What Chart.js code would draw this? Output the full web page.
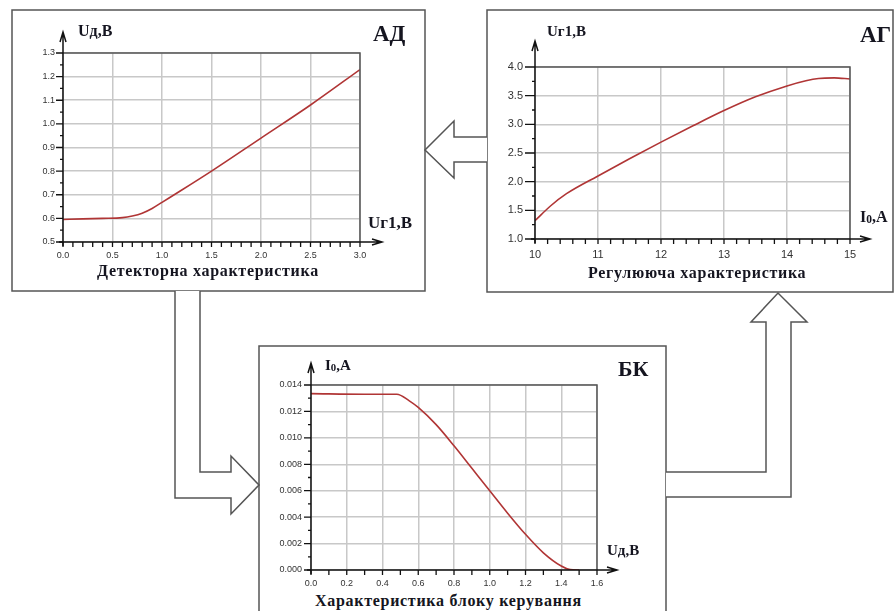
<!DOCTYPE html>
<html>
<head>
<meta charset="utf-8">
<script src="https://cdn.jsdelivr.net/npm/chart.js@4.4.1/dist/chart.umd.min.js"></script>
<style>
body { margin: 0; background: #fff; }
#page { position: relative; width: 894px; height: 611px; overflow: hidden; background: #fff; }
svg { position: absolute; left: 0; top: 0; }
canvas { position: absolute; }
.lbl { position: absolute; font-family: "Liberation Serif", "Times New Roman", serif; font-weight: bold; color: #151520; white-space: nowrap; line-height: 1; z-index: 5; }
.sub { font-size: 0.72em; vertical-align: -0.12em; }
</style>
</head>
<body>
<div id="page">
  <svg width="894" height="611">
    <g fill="#fff" stroke="#555" stroke-width="1.5">
      <rect x="12" y="10" width="413" height="281"/>
      <rect x="487" y="10" width="406" height="282"/>
      <rect x="259" y="346" width="407" height="280"/>
      <!-- AG -> AD -->
      <polyline points="487,137 454,137 454,121 425,150 454,178 454,162 487,162"/>
      <!-- AD -> BK -->
      <polyline points="175,291 175,498 231,498 231,514 259,485 231,456 231,472 200,472 200,291"/>
      <!-- BK -> AG -->
      <polyline points="666,472 766,472 766,322 751,322 778,293 807,322 791,322 791,497 666,497"/>
    </g>
  </svg>

  <canvas id="adChart" width="400" height="250" style="left:10px;top:20px;"></canvas>
  <canvas id="agChart" width="390" height="235" style="left:490px;top:25px;"></canvas>
  <canvas id="bkChart" width="380" height="235" style="left:265px;top:355px;"></canvas>

  <div class="lbl" style="left:78px;top:23px;font-size:16px;">Uд,В</div>
  <div class="lbl" style="left:373px;top:22px;font-size:23px;">АД</div>
  <div class="lbl" style="left:368px;top:214px;font-size:17px;">Uг1,В</div>
  <div class="lbl" style="left:97px;top:263px;font-size:16px;letter-spacing:0.7px;">Детекторна характеристика</div>

  <div class="lbl" style="left:547px;top:24px;font-size:15px;">Uг1,В</div>
  <div class="lbl" style="left:860px;top:23px;font-size:23px;">АГ</div>
  <div class="lbl" style="left:860px;top:209px;font-size:16px;">I<span class="sub">0</span>,А</div>
  <div class="lbl" style="left:588px;top:265px;font-size:16px;letter-spacing:0.7px;">Регулююча характеристика</div>

  <div class="lbl" style="left:325px;top:358px;font-size:15px;">I<span class="sub">0</span>,А</div>
  <div class="lbl" style="left:618px;top:358px;font-size:22px;">БК</div>
  <div class="lbl" style="left:607px;top:543px;font-size:15px;">Uд,В</div>
  <div class="lbl" style="left:315px;top:593px;font-size:16px;letter-spacing:0.7px;">Характеристика блоку керування</div>
</div>

<script>
// Детекторна характеристика (АД): Uд vs Uг1
var adX = [0, 0.2, 0.4, 0.6, 0.7, 0.8, 0.9, 1.0, 1.2, 1.5, 2.0, 2.5, 3.0];
var adY = [0.595, 0.598, 0.600, 0.603, 0.610, 0.622, 0.642, 0.668, 0.72, 0.80, 0.94, 1.08, 1.23];
var adXTicks = [0, 0.5, 1.0, 1.5, 2.0, 2.5, 3.0];
var adYTicks = [0.5, 0.6, 0.7, 0.8, 0.9, 1.0, 1.1, 1.2, 1.3];

// Регулююча характеристика (АГ): Uг1 vs I0
var agX = [10, 10.25, 10.5, 11, 11.5, 12, 12.5, 13, 13.5, 14, 14.3, 14.5, 14.75, 15];
var agY = [1.32, 1.58, 1.79, 2.10, 2.40, 2.69, 2.97, 3.24, 3.48, 3.67, 3.76, 3.80, 3.81, 3.79];
var agXTicks = [10, 11, 12, 13, 14, 15];
var agYTicks = [1.0, 1.5, 2.0, 2.5, 3.0, 3.5, 4.0];

// Характеристика блоку керування (БК): I0 vs Uд
var bkX = [0, 0.3, 0.48, 0.55, 0.6, 0.7, 0.8, 0.9, 1.0, 1.1, 1.2, 1.3, 1.4, 1.45, 1.5];
var bkY = [0.01335, 0.0133, 0.0133, 0.0128, 0.0123, 0.0110, 0.0094, 0.0077, 0.0060, 0.0043, 0.0027, 0.0013, 0.0003, 0.00003, 0];
var bkXTicks = [0, 0.2, 0.4, 0.6, 0.8, 1.0, 1.2, 1.4, 1.6];
var bkYTicks = [0, 0.002, 0.004, 0.006, 0.008, 0.010, 0.012, 0.014];

// frame, arrowed axes and tick marks
var axisDecor = {
    id: 'axisDecor',
    afterDraw: function(chart, args, o) {
        var ctx = chart.ctx, a = chart.chartArea, x = chart.scales.x, y = chart.scales.y;
        ctx.save();
        ctx.strokeStyle = '#555';
        ctx.lineWidth = 1.5;
        ctx.beginPath();
        ctx.moveTo(a.left, a.top); ctx.lineTo(a.right, a.top); ctx.lineTo(a.right, a.bottom);
        ctx.stroke();

        ctx.strokeStyle = '#111';
        ctx.lineWidth = 1.5;
        ctx.beginPath();
        ctx.moveTo(a.left, a.bottom + 4); ctx.lineTo(a.left, a.top - o.up);
        ctx.moveTo(a.left - 4, a.bottom); ctx.lineTo(a.right + o.right, a.bottom);
        ctx.moveTo(a.left - 3, a.top - o.up + 10); ctx.lineTo(a.left, a.top - o.up); ctx.lineTo(a.left + 3, a.top - o.up + 10);
        ctx.moveTo(a.right + o.right - 10, a.bottom - 3); ctx.lineTo(a.right + o.right, a.bottom); ctx.lineTo(a.right + o.right - 10, a.bottom + 3);
        ctx.stroke();

        ctx.lineWidth = 1.3;
        ctx.beginPath();
        var n = Math.round((x.max - x.min) / o.xMinor);
        for (var i = 0; i <= n; i++) {
            var px = x.getPixelForValue(x.min + i * o.xMinor);
            ctx.moveTo(px, a.bottom); ctx.lineTo(px, a.bottom + 5);
        }
        var m = Math.round((y.max - y.min) / o.yMinor);
        for (var j = 0; j <= m; j++) {
            var py = y.getPixelForValue(y.min + j * o.yMinor);
            var len = (j % 2 === 0) ? o.yMajor : 3;
            ctx.moveTo(a.left - len, py); ctx.lineTo(a.left, py);
        }
        ctx.stroke();
        ctx.restore();
    }
};

function makeChart(id, xs, ys, xTicks, yTicks, s) {
    var pts = xs.map(function(v, i) { return {x: v, y: ys[i]}; });
    var tickFont = {family: '"Liberation Sans", Arial, sans-serif', size: s.fontSize};
    return new Chart(document.getElementById(id).getContext('2d'), {
        type: 'line',
        data: {
            datasets: [{
                data: pts,
                borderColor: '#b03535',
                borderWidth: 1.6,
                pointRadius: 0,
                fill: false,
                cubicInterpolationMode: 'monotone'
            }]
        },
        options: {
            responsive: false,
            animation: false,
            layout: {padding: {left: 0, top: s.top, right: s.right, bottom: s.bottom}},
            plugins: {
                legend: {display: false},
                tooltip: {enabled: false},
                axisDecor: {up: s.up, right: s.arrowRight, xMinor: s.xMinor, yMinor: s.yMinor, yMajor: s.yMajor}
            },
            scales: {
                x: {
                    type: 'linear',
                    min: xTicks[0], max: xTicks[xTicks.length - 1],
                    afterBuildTicks: function(sc) { sc.ticks = xTicks.map(function(v) { return {value: v}; }); },
                    afterFit: function(sc) { sc.height = s.xHeight; },
                    grid: {color: '#c8c8c8', lineWidth: 1.5, drawTicks: false},
                    border: {display: false},
                    ticks: {color: '#333', font: tickFont, padding: s.xPad, maxRotation: 0,
                        callback: function(v) { return v.toFixed(s.xDec); }}
                },
                y: {
                    type: 'linear',
                    min: yTicks[0], max: yTicks[yTicks.length - 1],
                    afterBuildTicks: function(sc) { sc.ticks = yTicks.map(function(v) { return {value: v}; }); },
                    afterFit: function(sc) { sc.width = s.yWidth; },
                    grid: {color: '#c8c8c8', lineWidth: 1.5, drawTicks: false},
                    border: {display: false},
                    ticks: {color: '#333', font: tickFont, padding: s.yPad,
                        callback: function(v) { return v.toFixed(s.yDec); }}
                }
            }
        },
        plugins: [axisDecor]
    });
}

makeChart('adChart', adX, adY, adXTicks, adYTicks, {
    top: 33, right: 50, bottom: 8, xHeight: 20, yWidth: 53, fontSize: 9,
    xPad: 8, yPad: 8, xDec: 1, yDec: 1, up: 21, arrowRight: 22, xMinor: 0.1, yMinor: 0.05, yMajor: 7
});
makeChart('agChart', agX, agY, agXTicks, agYTicks, {
    top: 42, right: 30, bottom: 1, xHeight: 20, yWidth: 45, fontSize: 11,
    xPad: 9, yPad: 12, xDec: 0, yDec: 1, up: 26, arrowRight: 20, xMinor: 0.2, yMinor: 0.25, yMajor: 10
});
makeChart('bkChart', bkX, bkY, bkXTicks, bkYTicks, {
    top: 30, right: 48, bottom: 2, xHeight: 18, yWidth: 46, fontSize: 9,
    xPad: 8, yPad: 9, xDec: 1, yDec: 3, up: 22, arrowRight: 20, xMinor: 0.1, yMinor: 0.001, yMajor: 7
});
</script>
</body>
</html>
